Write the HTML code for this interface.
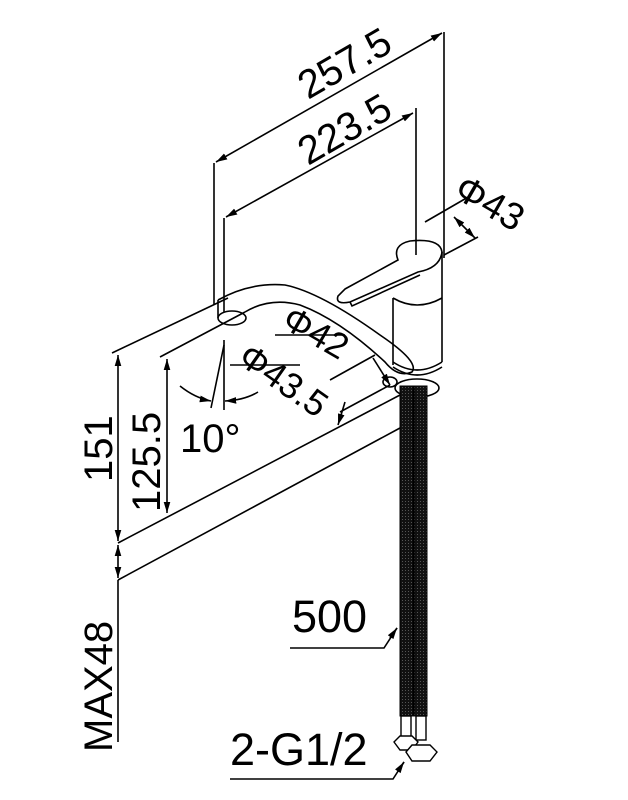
<!DOCTYPE html>
<html><head><meta charset="utf-8"><style>
html,body{margin:0;padding:0;background:#fff;}
svg{display:block}
text{font-family:"Liberation Sans",sans-serif;fill:#000}
</style></head><body>
<svg width="628" height="800" viewBox="0 0 628 800" xmlns="http://www.w3.org/2000/svg">
<defs>
<marker id="a" viewBox="0 0 10 10" refX="10" refY="5" markerWidth="7" markerHeight="7" orient="auto-start-reverse"><path d="M0,2 L10,5 L0,8 z" fill="#000"/></marker>
<pattern id="braid" width="3" height="3" patternUnits="userSpaceOnUse"><rect width="3" height="3" fill="#111"/><rect x="0" y="0" width="1" height="1" fill="#555"/></pattern>
</defs>
<g stroke="#000" stroke-width="1.6" fill="none">
<line x1="214" y1="163" x2="214" y2="305"/>
<line x1="444" y1="32" x2="444" y2="258"/>
<line x1="216" y1="162" x2="442" y2="33" marker-start="url(#a)" marker-end="url(#a)"/>
<line x1="224" y1="218" x2="224" y2="312"/>
<line x1="416" y1="108" x2="416" y2="255"/>
<line x1="226" y1="217" x2="413" y2="113" marker-start="url(#a)" marker-end="url(#a)"/>
<line x1="444" y1="255" x2="478" y2="237"/>
<line x1="425" y1="222" x2="470" y2="196"/>
<line x1="454" y1="217" x2="475" y2="238" marker-start="url(#a)" marker-end="url(#a)"/>
<line x1="118" y1="543" x2="400" y2="395"/>
<line x1="118" y1="580" x2="400" y2="428"/>
<line x1="112" y1="353" x2="228" y2="298"/>
<line x1="118" y1="355" x2="118" y2="541" marker-start="url(#a)" marker-end="url(#a)"/>
<line x1="118" y1="545" x2="118" y2="578" marker-start="url(#a)" marker-end="url(#a)"/>
<line x1="118" y1="580" x2="118" y2="742"/>
<line x1="160" y1="357" x2="245" y2="312"/>
<line x1="167" y1="359" x2="167" y2="513" marker-start="url(#a)" marker-end="url(#a)"/>
<line x1="224" y1="340" x2="224" y2="410"/>
<line x1="224" y1="345" x2="211" y2="408"/>
<path d="M180,386 Q195,398 211,401" marker-end="url(#a)"/>
<path d="M258,392 Q245,400 225,401" marker-end="url(#a)"/>
<line x1="275" y1="335" x2="345" y2="335"/>
<line x1="230" y1="365" x2="300" y2="365"/>
<line x1="373" y1="358" x2="390" y2="385" marker-end="url(#a)"/>
<line x1="375" y1="355" x2="330" y2="380"/>
<line x1="390" y1="385" x2="340" y2="412"/>
<line x1="345" y1="402" x2="338" y2="425" marker-end="url(#a)"/>
<path d="M218,300 Q250,282 285,285 Q320,292 380,335 Q420,362 412,372 Q398,378 385,362 Q340,320 300,305 Q270,297 245,312"/>
<ellipse cx="232" cy="318" rx="14" ry="7"/>
<line x1="218" y1="300" x2="218" y2="318"/>
<line x1="393" y1="298" x2="393" y2="365"/>
<line x1="442" y1="252" x2="442" y2="362"/>
<path d="M393,298 Q417,312 442,298"/>
<path d="M393,362 Q417,378 442,362"/>
<path d="M393,367 Q417,383 442,367"/>
<path d="M345,289 L398,260 Q392,245 410,241 Q440,238 442,252 Q440,268 418,272 L350,302 Q335,305 338,296 Z"/>
<path d="M350,302 L352,306 L420,275"/>
<ellipse cx="417" cy="388" rx="22" ry="9"/>
<ellipse cx="390" cy="382" rx="7" ry="5"/>
<path d="M290,648 L384,648 L397,628" />
<line x1="390" y1="638" x2="397" y2="628" marker-end="url(#a)"/>
<path d="M230,779 L393,779 L404,762"/>
<line x1="398" y1="771" x2="404" y2="762" marker-end="url(#a)"/>
</g>
<rect x="400" y="386" width="13" height="330" fill="url(#braid)" stroke="#000"/>
<rect x="414" y="386" width="13" height="330" fill="url(#braid)" stroke="#000"/>
<g stroke="#000" stroke-width="1.4" fill="#fff">
<rect x="401" y="716" width="10" height="24"/>
<rect x="416" y="716" width="10" height="24"/>
<path d="M394,742 L400,736 L412,736 L418,742 L412,750 L400,750 Z"/>
<path d="M406,752 L412,745 L430,745 L437,752 L430,761 L412,761 Z"/>
</g>
<text font-size="40" transform="translate(308,100) rotate(-30)">257.5</text>
<text font-size="40" transform="translate(308,166) rotate(-30)">223.5</text>
<text font-size="38" transform="translate(452,196) rotate(30)">Φ43</text>
<text font-size="36" transform="translate(280,326) rotate(30)">Φ42</text>
<text font-size="36" transform="translate(236,362) rotate(35)">Φ43.5</text>
<text x="180" y="452" font-size="40">10°</text>
<text font-size="40" transform="translate(112,482) rotate(-90)">151</text>
<text font-size="40" transform="translate(160,512) rotate(-90)">125.5</text>
<text font-size="40" transform="translate(112,752) rotate(-90)">MAX48</text>
<text x="292" y="632" font-size="45">500</text>
<text x="230" y="765" font-size="45">2-G1/2</text>
</svg>
</body></html>
